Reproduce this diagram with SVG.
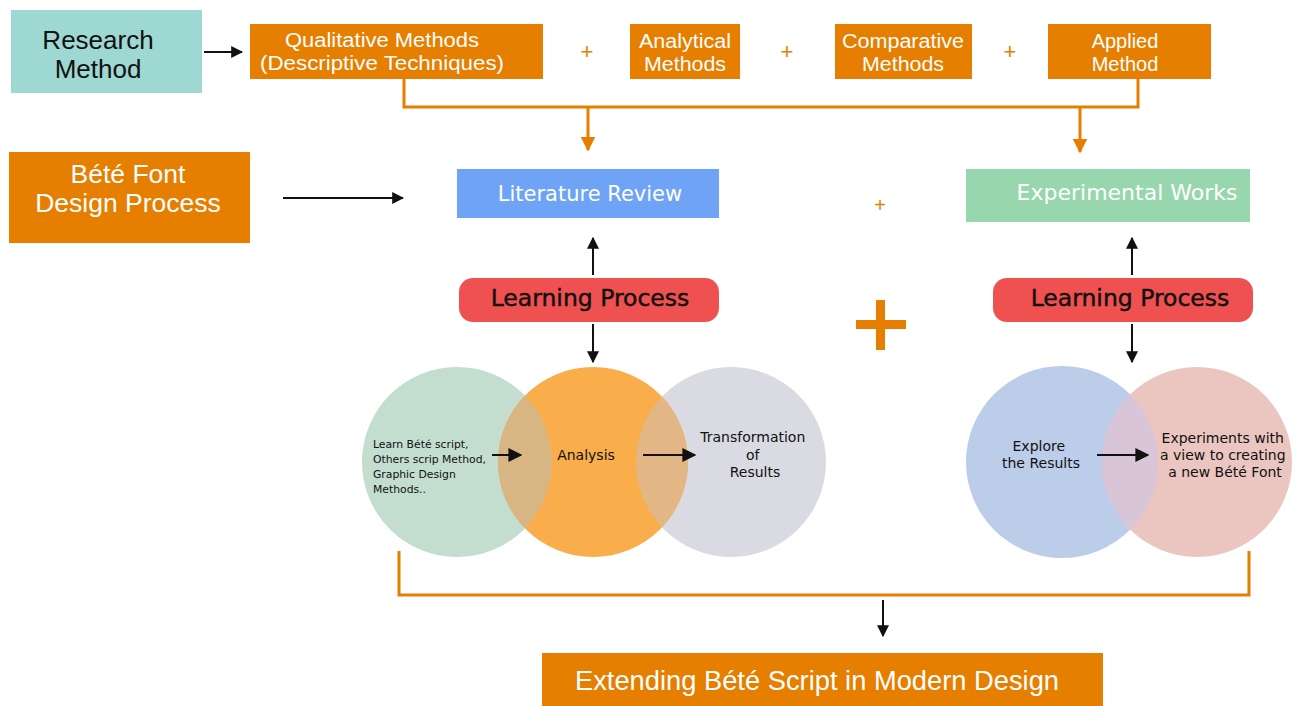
<svg xmlns="http://www.w3.org/2000/svg" width="1296" height="706" viewBox="0 0 1296 706">
  <defs>
    <style>
      .t { font-family: "Liberation Sans", Arial, sans-serif; }
      .d { font-family: "DejaVu Sans", Verdana, sans-serif; }
      .w { fill: #ffffff; }
      .k { fill: #111111; }
      .org { fill: #e67e00; }
      .ol { fill: none; stroke: #e67e00; stroke-width: 3; }
      .bl { fill: none; stroke: #111111; stroke-width: 2; }
      .plus { font-family: "Liberation Sans", Arial, sans-serif; fill: #e67e00; }
      .semi { stroke: #111111; stroke-width: 0.45; }
      .m { font-size: 20px; }
    </style>
    <marker id="ah" viewBox="0 0 10 10" refX="9" refY="5" markerWidth="6" markerHeight="6" markerUnits="strokeWidth" orient="auto">
      <path d="M0,0 L10,5 L0,10 Z" fill="#111111"/>
    </marker>
    <marker id="ahBig" viewBox="0 0 10 10" refX="9" refY="5" markerWidth="7" markerHeight="7" markerUnits="strokeWidth" orient="auto">
      <path d="M0,0 L10,5 L0,10 Z" fill="#111111"/>
    </marker>
    <marker id="ahO" viewBox="0 0 10 10" refX="9" refY="5" markerWidth="5" markerHeight="5" markerUnits="strokeWidth" orient="auto">
      <path d="M0,0 L10,5 L0,10 Z" fill="#e67e00"/>
    </marker>
    <clipPath id="cGreen"><circle cx="457" cy="462" r="95"/></clipPath>
    <clipPath id="cGray"><circle cx="731" cy="462" r="95"/></clipPath>
    <clipPath id="cPink"><circle cx="1197" cy="462" r="95"/></clipPath>
  </defs>

  <rect width="1296" height="706" fill="#ffffff"/>

  <!-- top row: research methods -->
  <g id="research-method">
    <rect x="11" y="10" width="191" height="83" fill="#9dd8d3"/>
    <text class="t k" x="98" y="49" font-size="26" text-anchor="middle">Research</text>
    <text class="t k" x="98" y="78" font-size="26" text-anchor="middle">Method</text>
  </g>
  <g id="qualitative">
    <rect x="250" y="24" width="293" height="55" class="org"/>
    <text class="t w m" x="382" y="47" text-anchor="middle" textLength="194" lengthAdjust="spacingAndGlyphs">Qualitative Methods</text>
    <text class="t w m" x="382" y="70" text-anchor="middle" textLength="244" lengthAdjust="spacingAndGlyphs">(Descriptive Techniques)</text>
  </g>
  <g id="analytical">
    <rect x="630" y="24" width="110" height="55" class="org"/>
    <text class="t w m" x="685" y="48" text-anchor="middle" textLength="92" lengthAdjust="spacingAndGlyphs">Analytical</text>
    <text class="t w m" x="685" y="71" text-anchor="middle" textLength="82" lengthAdjust="spacingAndGlyphs">Methods</text>
  </g>
  <g id="comparative">
    <rect x="835" y="24" width="137" height="55" class="org"/>
    <text class="t w m" x="903" y="48" text-anchor="middle" textLength="122" lengthAdjust="spacingAndGlyphs">Comparative</text>
    <text class="t w m" x="903" y="71" text-anchor="middle" textLength="82" lengthAdjust="spacingAndGlyphs">Methods</text>
  </g>
  <g id="applied">
    <rect x="1048" y="24" width="163" height="55" class="org"/>
    <text class="t w m" x="1125" y="48" text-anchor="middle">Applied</text>
    <text class="t w m" x="1125" y="71" text-anchor="middle">Method</text>
  </g>
  <g id="plus-signs">
    <text class="plus" x="587" y="59" font-size="22" text-anchor="middle">+</text>
    <text class="plus" x="787" y="59" font-size="22" text-anchor="middle">+</text>
    <text class="plus" x="1010" y="59" font-size="22" text-anchor="middle">+</text>
    <text class="plus" x="880" y="212" font-size="20" text-anchor="middle">+</text>
    <rect x="856" y="320" width="50" height="9" class="org"/>
    <rect x="876" y="300" width="9" height="50" class="org"/>
  </g>

  <!-- second row -->
  <g id="bete-process">
    <rect x="9" y="152" width="241" height="91" class="org"/>
    <text class="t w" x="128" y="183" font-size="26.5" text-anchor="middle">Bété Font</text>
    <text class="t w" x="128" y="212" font-size="26.5" text-anchor="middle">Design Process</text>
  </g>
  <g id="literature-review">
    <rect x="457" y="169" width="262" height="49" fill="#6fa3f5"/>
    <text class="d w" x="590" y="201" font-size="21" text-anchor="middle">Literature Review</text>
  </g>
  <g id="experimental-works">
    <rect x="966" y="169" width="284" height="53" fill="#98d6ad"/>
    <text class="d w" x="1127" y="200" font-size="22" text-anchor="middle">Experimental Works</text>
  </g>

  <!-- learning process pills -->
  <g id="learning-left">
    <rect x="459" y="278" width="260" height="44" rx="14" fill="#ef5050"/>
    <text class="d k semi" x="590" y="306" font-size="23.5" text-anchor="middle">Learning Process</text>
  </g>
  <g id="learning-right">
    <rect x="993" y="278" width="260" height="44" rx="14" fill="#ef5050"/>
    <text class="d k semi" x="1130" y="306" font-size="23.5" text-anchor="middle">Learning Process</text>
  </g>

  <!-- left circle group -->
  <g id="circles-left">
    <circle cx="457" cy="462" r="95" fill="#c3ddcf"/>
    <circle cx="731" cy="462" r="95" fill="#dadae2"/>
    <circle cx="593" cy="462" r="95" fill="#f9ad4b"/>
    <circle cx="593" cy="462" r="95" fill="#d8b683" clip-path="url(#cGreen)"/>
    <circle cx="593" cy="462" r="95" fill="#e3b686" clip-path="url(#cGray)"/>
  </g>
  <g id="learn-text">
    <text class="d k" font-size="10.8">
      <tspan x="373" y="448">Learn Bété script,</tspan>
      <tspan x="373" y="463">Others scrip Method,</tspan>
      <tspan x="373" y="478">Graphic Design</tspan>
      <tspan x="373" y="493">Methods..</tspan>
    </text>
  </g>
  <g id="analysis-text">
    <text class="d k" x="586" y="460" font-size="14" text-anchor="middle">Analysis</text>
  </g>
  <g id="transformation-text">
    <text class="d k" font-size="14" text-anchor="middle">
      <tspan x="755" y="442">Transformation</tspan>
      <tspan x="755" y="460">of</tspan>
      <tspan x="755" y="477">Results</tspan>
    </text>
  </g>

  <!-- right circle group -->
  <g id="circles-right">
    <circle cx="1062" cy="462" r="96" fill="#bccde9"/>
    <circle cx="1197" cy="462" r="95" fill="#ebc6c0"/>
    <circle cx="1062" cy="462" r="96" fill="#d8c5d8" clip-path="url(#cPink)"/>
  </g>
  <g id="explore-text">
    <text class="d k" font-size="14" text-anchor="middle">
      <tspan x="1041" y="451">Explore</tspan>
      <tspan x="1041" y="468">the Results</tspan>
    </text>
  </g>
  <g id="experiments-text">
    <text class="d k" font-size="14" text-anchor="middle">
      <tspan x="1225" y="443">Experiments with</tspan>
      <tspan x="1225" y="460">a view to creating</tspan>
      <tspan x="1225" y="477">a new Bété Font</tspan>
    </text>
  </g>

  <!-- result -->
  <g id="extending">
    <rect x="542" y="653" width="561" height="53" class="org"/>
    <text class="t w" x="817" y="690" font-size="27.3" text-anchor="middle">Extending Bété Script in Modern Design</text>
  </g>

  <!-- connectors -->
  <g id="connectors">
    <line x1="204" y1="52" x2="242" y2="52" class="bl" marker-end="url(#ah)"/>
    <polyline points="404,79 404,107 1138,107 1138,79" class="ol"/>
    <line x1="588" y1="107" x2="588" y2="150" class="ol" marker-end="url(#ahO)"/>
    <line x1="1080" y1="107" x2="1080" y2="152" class="ol" marker-end="url(#ahO)"/>
    <line x1="283" y1="198" x2="403" y2="198" class="bl" marker-end="url(#ah)"/>
    <line x1="593" y1="275" x2="593" y2="238" class="bl" marker-end="url(#ah)"/>
    <line x1="593" y1="324" x2="593" y2="362" class="bl" marker-end="url(#ah)"/>
    <line x1="1132" y1="275" x2="1132" y2="238" class="bl" marker-end="url(#ah)"/>
    <line x1="1132" y1="324" x2="1132" y2="362" class="bl" marker-end="url(#ah)"/>
    <line x1="492" y1="455" x2="521" y2="455" class="bl" marker-end="url(#ahBig)"/>
    <line x1="643" y1="455" x2="695" y2="455" class="bl" marker-end="url(#ahBig)"/>
    <line x1="1097" y1="455" x2="1148" y2="455" class="bl" marker-end="url(#ahBig)"/>
    <polyline points="399,551 399,595 1249,595 1249,551" class="ol"/>
    <line x1="883" y1="600" x2="883" y2="636" class="bl" marker-end="url(#ah)"/>
  </g>
</svg>
